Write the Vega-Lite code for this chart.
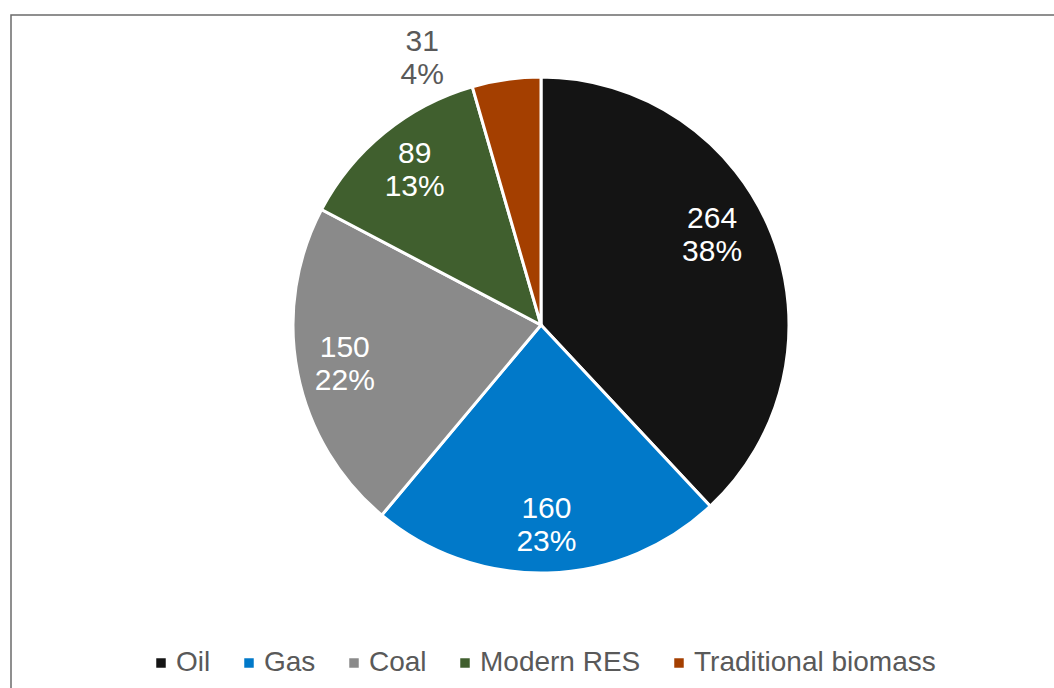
{
  "$schema": "https://vega.github.io/schema/vega-lite/v6.json",
  "width": 1060,
  "height": 720,
  "autosize": {"type": "none"},
  "padding": {"left": 11, "top": 15, "right": 0, "bottom": 0},
  "background": "white",
  "view": {"stroke": "#6b6b6b", "strokeWidth": 1.5},
  "config": {
    "view": {"stroke": "#6b6b6b", "strokeWidth": 1.5},
    "font": "Liberation Sans"
  },
  "data": {
    "values": [
      {"source": "Oil", "value": 264, "share": 0.38, "rank": 1},
      {"source": "Gas", "value": 160, "share": 0.23, "rank": 2},
      {"source": "Coal", "value": 150, "share": 0.22, "rank": 3},
      {"source": "Modern RES", "value": 89, "share": 0.13, "rank": 4},
      {"source": "Traditional biomass", "value": 31, "share": 0.04, "rank": 5}
    ]
  },
  "encoding": {
    "theta": {"field": "value", "type": "quantitative", "stack": true},
    "order": {"field": "rank", "type": "quantitative"}
  },
  "layer": [
    {
      "mark": {"type": "arc", "outerRadius": 248, "y": 310, "stroke": "white", "strokeWidth": 3},
      "encoding": {
        "color": {
          "field": "source",
          "type": "nominal",
          "scale": {
            "domain": ["Oil", "Gas", "Coal", "Modern RES", "Traditional biomass"],
            "range": ["#141414", "#0179c9", "#8a8a8a", "#405f2e", "#a43f00"]
          },
          "legend": {
            "title": null,
            "orient": "none",
            "legendX": 136,
            "legendY": 634,
            "direction": "horizontal",
            "columns": 5,
            "padding": 0,
            "symbolType": "square",
            "symbolSize": 90,
            "symbolStrokeWidth": 0,
            "labelFontSize": 28,
            "labelColor": "#595959",
            "labelFont": "Liberation Sans",
            "labelOffset": 1,
            "columnPadding": 24,
            "labelLimit": 400
          }
        }
      }
    },
    {
      "mark": {"type": "text", "radius": 200, "y": 310, "dy": -16, "fontSize": 30, "font": "Liberation Sans", "color": "white"},
      "encoding": {
        "detail": {"field": "source", "type": "nominal"},
        "text": {"condition": {"test": "datum.source === 'Traditional biomass' || datum.source === 'Oil'", "value": ""}, "field": "value", "type": "quantitative"}
      }
    },
    {
      "mark": {"type": "text", "radius": 200, "y": 310, "dy": 17, "fontSize": 30, "font": "Liberation Sans", "color": "white"},
      "encoding": {
        "detail": {"field": "source", "type": "nominal"},
        "text": {"condition": {"test": "datum.source === 'Traditional biomass' || datum.source === 'Oil'", "value": ""}, "field": "share", "type": "quantitative", "format": ".0%"}
      }
    },
    {
      "mark": {"type": "text", "radius": 200, "y": 310, "dx": -15, "dy": -33, "fontSize": 30, "font": "Liberation Sans", "color": "white"},
      "encoding": {
        "detail": {"field": "source", "type": "nominal"},
        "text": {"condition": {"test": "datum.source !== 'Oil'", "value": ""}, "field": "value", "type": "quantitative"}
      }
    },
    {
      "mark": {"type": "text", "radius": 200, "y": 310, "dx": -15, "dy": 0, "fontSize": 30, "font": "Liberation Sans", "color": "white"},
      "encoding": {
        "detail": {"field": "source", "type": "nominal"},
        "text": {"condition": {"test": "datum.source !== 'Oil'", "value": ""}, "field": "share", "type": "quantitative", "format": ".0%"}
      }
    },
    {
      "mark": {"type": "text", "radius": 270, "y": 310, "dx": -81, "dy": -16, "fontSize": 30, "font": "Liberation Sans", "color": "#595959"},
      "encoding": {
        "detail": {"field": "source", "type": "nominal"},
        "text": {"condition": {"test": "datum.source !== 'Traditional biomass'", "value": ""}, "field": "value", "type": "quantitative"}
      }
    },
    {
      "mark": {"type": "text", "radius": 270, "y": 310, "dx": -81, "dy": 17, "fontSize": 30, "font": "Liberation Sans", "color": "#595959"},
      "encoding": {
        "detail": {"field": "source", "type": "nominal"},
        "text": {"condition": {"test": "datum.source !== 'Traditional biomass'", "value": ""}, "field": "share", "type": "quantitative", "format": ".0%"}
      }
    }
  ]
}
